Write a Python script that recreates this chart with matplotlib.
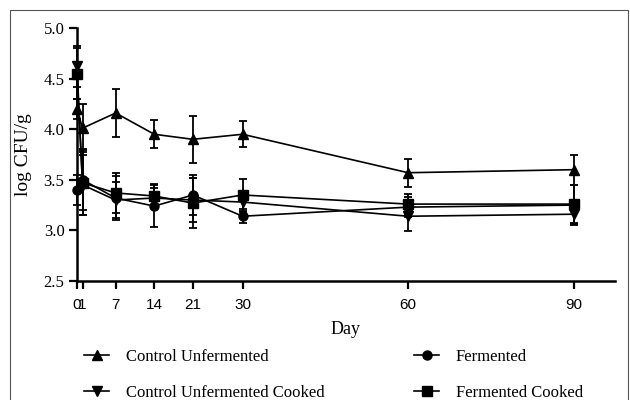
import matplotlib
matplotlib.use("Agg")
import matplotlib.pyplot as plt
from matplotlib.patches import Rectangle
from matplotlib.lines import Line2D

days = [0, 1, 7, 14, 21, 30, 60, 90]
xtick_labels = ["0", "1", "7", "14", "21", "30", "60", "90"]

cu_mean = [4.20, 4.01, 4.16, 3.95, 3.90, 3.95, 3.57, 3.60]
cu_err = [0.10, 0.24, 0.24, 0.14, 0.23, 0.13, 0.14, 0.15]

cuc_mean = [4.62, 3.45, 3.30, 3.32, 3.30, 3.28, 3.14, 3.16]
cuc_err = [0.20, 0.30, 0.18, 0.10, 0.22, 0.10, 0.15, 0.10]

f_mean = [3.40, 3.50, 3.32, 3.24, 3.35, 3.14, 3.23, 3.25]
f_err = [0.15, 0.30, 0.22, 0.21, 0.20, 0.07, 0.10, 0.20]

fc_mean = [4.55, 3.47, 3.37, 3.34, 3.27, 3.35, 3.26, 3.26]
fc_err = [0.25, 0.32, 0.20, 0.12, 0.25, 0.16, 0.10, 0.19]

labels = ["Control Unfermented", "Control Unfermented Cooked",
          "Fermented", "Fermented Cooked"]
markers = ["^", "v", "o", "s"]

serif = ["Liberation Serif", "DejaVu Serif"]
sans = ["Liberation Sans", "DejaVu Sans"]

fig = plt.figure(figsize=(6.3, 4.0), dpi=100)
ax = fig.add_axes([77/630, 1-281/400, (615-77)/630, (281-28)/400])

handles = []
for mean, err, mk, lab in zip([cu_mean, cuc_mean, f_mean, fc_mean],
                              [cu_err, cuc_err, f_err, fc_err], markers, labels):
    eb = ax.errorbar(days, mean, yerr=err, color="black", marker=mk,
                     markersize=6.5, linewidth=1.2, elinewidth=1.3,
                     capsize=3, capthick=1.3, clip_on=False, zorder=3)
    for c in eb.get_children():
        c.set_clip_on(False)
    handles.append(Line2D([], [], color="black", marker=mk, markersize=6.5,
                          linewidth=1.2))

ax.set_xlim(0, 97.5)
ax.set_ylim(2.5, 5.0)
ax.set_xticks(days)
ax.set_xticklabels(xtick_labels, fontfamily=sans, fontsize=11)
ax.set_yticks([2.5, 3.0, 3.5, 4.0, 4.5, 5.0])
ax.set_yticklabels(["2.5", "3.0", "3.5", "4.0", "4.5", "5.0"], fontfamily=serif, fontsize=12)
ax.spines["top"].set_visible(False)
ax.spines["right"].set_visible(False)
for s in ["left", "bottom"]:
    ax.spines[s].set_linewidth(1.8)
ax.tick_params(axis="both", direction="out", length=6, width=1.6)
ax.tick_params(axis="x", pad=6)
ax.tick_params(axis="y", pad=3)
ax.set_xlabel("Day", fontfamily=serif, fontsize=13, labelpad=7)
ax.set_ylabel("log CFU/g", fontfamily=serif, fontsize=14, labelpad=8)

leg = fig.legend(handles=handles, labels=labels, ncol=2, loc="upper left",
                 bbox_to_anchor=(84/630, 1-349/400), frameon=False, borderpad=0,
                 borderaxespad=0,
                 prop={"family": serif, "size": 12}, handlelength=1.5,
                 handletextpad=1.0, labelspacing=1.2, columnspacing=5.4)

fig.patches.append(Rectangle((10/630, -0.01), 618/630, 1-10/400+0.01,
                             transform=fig.transFigure, fill=False,
                             edgecolor="#555555", linewidth=0.8))

fig.savefig("out.png", dpi=100)
